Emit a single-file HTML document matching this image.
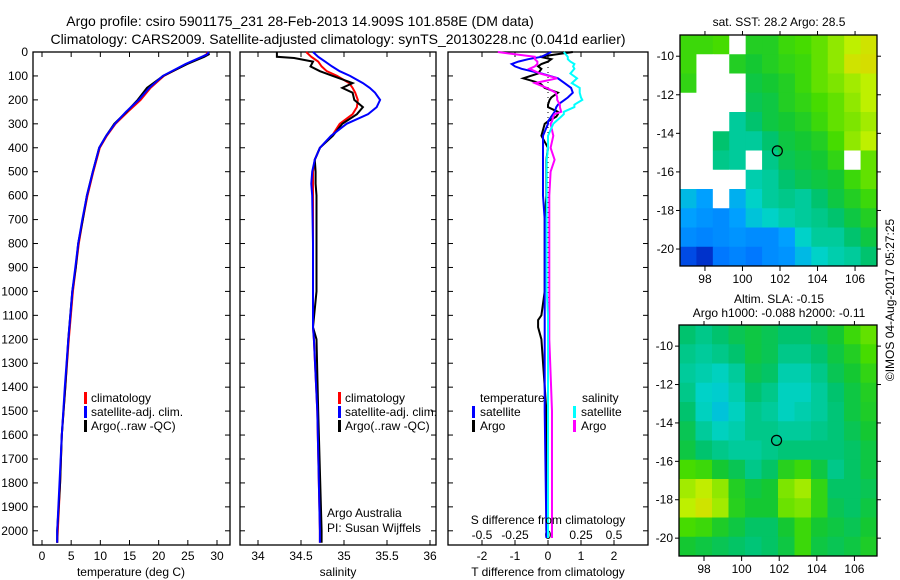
<!DOCTYPE html>
<html><head><meta charset="utf-8"><style>
body{margin:0;background:#fff;}
svg{display:block;font-family:"Liberation Sans",sans-serif;}
text{fill:#000;}
</style></head><body>
<svg id="c" width="900" height="580" viewBox="0 0 900 580" xmlns="http://www.w3.org/2000/svg">
<text x="300" y="26" font-size="14" text-anchor="middle">Argo profile: csiro 5901175_231 28-Feb-2013 14.909S 101.858E (DM data)</text>
<text x="338" y="44" font-size="14" text-anchor="middle">Climatology: CARS2009. Satellite-adjusted climatology: synTS_20130228.nc (0.041d earlier)</text>
<text x="779" y="26" font-size="12" text-anchor="middle">sat. SST: 28.2 Argo: 28.5</text>
<text x="779" y="303" font-size="12" text-anchor="middle">Altim. SLA: -0.15</text>
<text x="779" y="317" font-size="12" text-anchor="middle">Argo h1000: -0.088 h2000: -0.11</text>
<text transform="translate(894,300) rotate(-90)" font-size="12" text-anchor="middle">©IMOS 04-Aug-2017 05:27:25</text>
<g id="g"></g>
</svg>
<script>
// ---- data ----
const tDepth=[0,10,20,50,100,150,200,250,300,350,400,500,600,700,800,900,1000,1200,1400,1600,1800,2000,2050];
const tClim=[28.4,28.2,27.5,24.8,20.9,18.6,16.9,14.7,12.6,11.1,9.9,8.8,7.8,7.0,6.3,5.8,5.3,4.6,4.0,3.4,3.1,2.7,2.6];
const tSat=[28.6,28.3,27.4,24.6,20.7,18.4,16.6,14.4,12.5,11.0,9.8,8.7,7.7,6.9,6.2,5.7,5.2,4.5,3.9,3.4,3.0,2.6,2.6];
const tArgo=[28.5,28.6,27.8,24.9,20.8,18.0,16.4,14.5,12.4,11.0,9.8,8.7,7.7,7.0,6.2,5.8,5.2,4.5,4.0,3.4,3.1,2.6,2.6];
const sDepth=[0,20,25,40,60,80,100,130,150,170,200,230,260,300,350,400,450,500,550,600,800,1000,1150,1200,1500,2000,2050];
const sClim=[34.56,34.62,34.64,34.70,34.74,34.80,34.92,35.06,35.10,35.13,35.16,35.15,35.10,34.95,34.86,34.72,34.66,34.64,34.64,34.64,34.64,34.64,34.64,34.65,34.69,34.72,34.72];
const sSat=[34.64,34.70,34.72,34.78,34.86,34.95,35.07,35.22,35.30,35.36,35.42,35.38,35.28,35.03,34.85,34.72,34.66,34.63,34.62,34.63,34.64,34.64,34.64,34.65,34.69,34.72,34.72];
const sArgo=[34.22,34.22,34.42,34.64,34.61,34.72,34.87,35.10,34.98,35.10,35.12,35.22,35.15,34.98,34.87,34.72,34.66,34.67,34.67,34.68,34.68,34.68,34.64,34.68,34.70,34.74,34.74];
const dDepth=[0,20,30,40,50,60,70,90,110,130,150,170,190,200,220,230,250,260,270,290,300,350,400,450,500,600,700,800,1000,1100,1120,1150,1200,1500,2000,2030];
const dTsat=[0.1,-0.2,-0.6,-0.9,-1.1,-1.0,-0.8,-0.2,0.3,0.5,0.7,0.75,0.6,0.5,0.3,0.25,0.2,0.15,0.1,0.0,0.0,-0.15,-0.15,-0.15,-0.15,-0.15,-0.1,-0.1,-0.1,-0.1,-0.1,-0.1,-0.1,-0.1,-0.05,-0.05];
const dTargo=[0.75,-0.25,0.1,0.0,-0.2,-0.3,-0.2,-0.3,-0.75,-0.25,-0.1,0.3,0.1,0.05,0.0,0.0,0.3,0.3,0.25,0.0,-0.1,-0.2,0.0,-0.05,-0.05,-0.05,-0.1,-0.1,-0.1,-0.2,-0.3,-0.3,-0.2,-0.05,-0.05,0.0];
const dSsat=[0.12,0.15,0.15,0.17,0.2,0.19,0.2,0.17,0.22,0.18,0.24,0.24,0.25,0.26,0.2,0.2,0.12,0.12,0.1,0.06,0.04,0.0,0.0,-0.01,-0.01,-0.01,-0.01,-0.01,-0.01,0.0,0.0,0.0,0.0,0.0,0.0,0.0];
const dSargo=[-0.38,-0.1,-0.1,-0.08,-0.08,-0.1,-0.14,-0.06,0.07,-0.1,-0.01,0.06,0.07,0.07,0.09,0.09,0.1,0.05,0.04,0.03,0.02,0.04,0.02,0.05,0.02,0.01,0.01,0.01,0.01,0.01,0.01,0.01,0.01,0.03,0.03,0.03];
const depthTicks=[0,100,200,300,400,500,600,700,800,900,1000,1100,1200,1300,1400,1500,1600,1700,1800,1900,2000];
const tTicks=[0,5,10,15,20,25,30];
const sTicks=[34,34.5,35,35.5,36];
const sTickLabels=["34","34.5","35","35.5","36"];
const dTTicks=[-2,-1,0,1,2];
const dSTicks=[-0.5,-0.25,0,0.25,0.5];
const dSTickLabels=["-0.5","-0.25","0","0.25","0.5"];
const lonTicks=[98,100,102,104,106];
const latTicks=[-10,-12,-14,-16,-18,-20];
const sstGrid=[
[.70,.70,.72,-1,.65,.65,.70,.72,.75,.80,.85,.90],
[.70,-1,-1,.65,.62,.65,.68,.70,.75,.80,.90,.92],
[.68,-1,-1,-1,.60,.62,.65,.70,.75,.78,.82,.85],
[-1,-1,-1,-1,.58,.60,.65,.68,.72,.75,.80,.85],
[-1,-1,-1,.50,.55,.60,.62,.65,.70,.75,.78,.82],
[-1,-1,.55,.50,.50,.55,.60,.62,.65,.72,.80,.85],
[-1,-1,.52,.50,-1,.52,.58,.60,.62,.68,-1,.75],
[-1,-1,-1,-1,.48,.50,.55,.58,.60,.62,.70,.75],
[.40,.35,-1,.38,.45,.50,.52,.50,.55,.60,.65,.70],
[.35,.32,.30,.35,.42,.45,.48,.50,.52,.55,.60,.65],
[.30,.28,.30,.32,.30,.30,.35,.45,.50,.50,.55,.60],
[.15,.10,.25,.28,.25,.30,.32,.40,.45,.48,.50,.55]];
const slaGrid=[
[.55,.52,.55,.58,.60,.58,.55,.55,.58,.62,.70,.75],
[.52,.50,.52,.55,.60,.58,.52,.52,.55,.60,.65,.72],
[.50,.48,.46,.50,.58,.56,.48,.48,.52,.58,.62,.68],
[.52,.45,.44,.48,.55,.52,.46,.46,.50,.55,.60,.65],
[.55,.46,.42,.46,.52,.50,.46,.48,.50,.54,.60,.64],
[.58,.50,.46,.48,.52,.52,.50,.50,.52,.54,.58,.62],
[.60,.55,.52,.50,.50,.52,.54,.54,.54,.54,.56,.60],
[.72,.70,.62,.58,.52,.56,.66,.70,.60,.52,.56,.60],
[.82,.86,.80,.65,.60,.62,.78,.82,.68,.56,.56,.58],
[.85,.90,.82,.66,.62,.62,.76,.78,.68,.58,.56,.60],
[.72,.70,.64,.60,.56,.56,.62,.70,.62,.60,.58,.62],
[.62,.60,.58,.56,.54,.56,.60,.70,.60,.58,.60,.64]];
const argoLon=101.858, argoLat=-14.909;

// ---- helpers ----
const NS="http://www.w3.org/2000/svg";
const G=document.getElementById('g');
function mk(tag,attrs,parent){const e=document.createElementNS(NS,tag);for(const k in attrs)e.setAttribute(k,attrs[k]);(parent||G).appendChild(e);return e;}
const top0=52, pxm=0.2394, bottom=545;
const yD=d=>top0+d*pxm;
function lin(d0,d1,r0,r1){return v=>r0+(v-d0)*(r1-r0)/(d1-d0);}
const xT=lin(0,30,42,217);
const xS=lin(34,36,258,430);
const xDT=lin(0,2,548,614);
const xDS=lin(0,0.5,548,614);

function panel(name,x0,x1){
  const r=mk('rect',{x:x0,y:top0,width:x1-x0,height:bottom-top0,fill:'none',stroke:'#000','stroke-width':1.3});
  
  
  depthTicks.forEach(d=>{
    const t1=mk('line',{x1:x0,x2:x0+5,y1:yD(d),y2:yD(d),stroke:'#000'});
    
    
    const t2=mk('line',{x1:x1-5,x2:x1,y1:yD(d),y2:yD(d),stroke:'#000'});
    
    
  });
}
function xticks(name,vals,labels,fx,ly){
  vals.forEach((v,i)=>{
    const a=mk('line',{x1:fx(v),x2:fx(v),y1:bottom,y2:bottom-5,stroke:'#000'});
    
    
    const b=mk('line',{x1:fx(v),x2:fx(v),y1:top0,y2:top0+5,stroke:'#000'});
    
    
    const t=mk('text',{x:fx(v),y:ly,'font-size':12,'text-anchor':'middle'});
    t.textContent=labels[i];
    
    
  });
}
function line(name,depths,vals,fx,color){
  const pts=depths.map((d,i)=>fx(vals[i]).toFixed(1)+','+yD(d).toFixed(1)).join(' ');
  const p=mk('polyline',{points:pts,fill:'none',stroke:color,'stroke-width':2});
  
  
}
function txt(name,x,y,s,anchor,size){
  const t=mk('text',{x:x,y:y,'font-size':size||12,'text-anchor':anchor||'start'});
  t.textContent=s;
  
  
}
function legbar(name,x,y,color){
  const r=mk('rect',{x:x,y:y-10,width:3,height:12,fill:color});
  
  
}

// panel 1 temperature
panel('temperature-panel',33,230);
depthTicks.forEach(d=>{
  const t=mk('text',{x:28,y:yD(d)+4,'font-size':12,'text-anchor':'end'});
  t.textContent=String(d);
  
  
});
xticks('temperature-axis',tTicks,tTicks.map(String),xT,560);
line('temperature-climatology',tDepth,tClim,xT,'#ff0000');
line('temperature-argo',tDepth,tArgo,xT,'#000');
line('temperature-satellite',tDepth,tSat,xT,'#0000ff');
txt('temperature-axis-title',131,576,'temperature (deg C)','middle');
legbar('legend-climatology-swatch',84,402,'#f00');txt('legend-climatology',91,402,'climatology');
legbar('legend-satellite-swatch',84,416,'#00f');txt('legend-satellite',91,416,'satellite-adj. clim.');
legbar('legend-argo-swatch',84,430,'#000');txt('legend-argo',91,430,'Argo(..raw -QC)');

// panel 2 salinity
panel('salinity-panel',240,436);
xticks('salinity-axis',sTicks,sTickLabels,xS,560);
line('salinity-climatology',sDepth,sClim,xS,'#ff0000');
line('salinity-argo',sDepth,sArgo,xS,'#000');
line('salinity-satellite',sDepth,sSat,xS,'#0000ff');
txt('salinity-axis-title',338,576,'salinity','middle');
legbar('legend2-climatology-swatch',338,402,'#f00');txt('legend2-climatology',345,402,'climatology');
legbar('legend2-satellite-swatch',338,416,'#00f');txt('legend2-satellite',345,416,'satellite-adj. clim.');
legbar('legend2-argo-swatch',338,430,'#000');txt('legend2-argo',345,430,'Argo(..raw -QC)');
txt('institution-label',327,549-32,'Argo Australia');
txt('pi-label',327,549-17,'PI: Susan Wijffels');

// panel 3 differences
panel('difference-panel',448,648);
xticks('t-diff-axis',dTTicks,dTTicks.map(String),xDT,560);
dSTicks.forEach((v,i)=>{
  const t=mk('text',{x:xDS(v),y:539,'font-size':12,'text-anchor':'middle'});
  t.textContent=dSTickLabels[i];
  
  
});
const zl=mk('line',{x1:xDT(0),x2:xDT(0),y1:top0,y2:bottom,stroke:'#000','stroke-dasharray':'1,4'});


line('t-diff-argo',dDepth,dTargo,xDT,'#000');
line('t-diff-satellite',dDepth,dTsat,xDT,'#0000ff');
line('s-diff-argo',dDepth,dSargo,xDS,'#ff00ff');
line('s-diff-satellite',dDepth,dSsat,xDS,'#00ffff');
txt('s-diff-axis-title',548,524,'S difference from climatology','middle');
txt('t-diff-axis-title',548,576,'T difference from climatology','middle');
txt('legend3-temperature-heading',480,402,'temperature');
legbar('legend3-tsat-swatch',472,416,'#00f');txt('legend3-tsat',480,416,'satellite');
legbar('legend3-targo-swatch',472,430,'#000');txt('legend3-targo',480,430,'Argo');
txt('legend3-salinity-heading',582,402,'salinity');
legbar('legend3-ssat-swatch',573,416,'#0ff');txt('legend3-ssat',581,416,'satellite');
legbar('legend3-sargo-swatch',573,430,'#f0f');txt('legend3-sargo',581,430,'Argo');

// maps
const stops=[[0,[0,0,150]],[0.2,[0,100,255]],[0.35,[0,160,255]],[0.45,[0,210,200]],[0.55,[0,195,110]],[0.62,[20,200,50]],[0.72,[70,220,0]],[0.85,[190,240,0]],[1,[240,200,0]]];
function cmap(v){
  if(v<0)return '#fff';
  for(let i=1;i<stops.length;i++){if(v<=stops[i][0]){const a=stops[i-1],b=stops[i];const f=(v-a[0])/(b[0]-a[0]);const c=a[1].map((x,k)=>Math.round(x+(b[1][k]-x)*f));return 'rgb('+c.join(',')+')';}}
  return 'rgb(240,200,0)';
}
function map(name,x0,y0,x1,y1,lonL,lonR,latT,latB,grid){
  const nr=grid.length,nc=grid[0].length,cw=(x1-x0)/nc,ch=(y1-y0)/nr;
  grid.forEach((row,i)=>row.forEach((v,j)=>{
    const r=mk('rect',{x:(x0+j*cw).toFixed(2),y:(y0+i*ch).toFixed(2),width:(cw+0.5).toFixed(2),height:(ch+0.5).toFixed(2),fill:cmap(v)});
    
    
  }));
  const fx=lin(lonL,lonR,x0,x1),fy=lin(latT,latB,y0,y1);
  const f=mk('rect',{x:x0,y:y0,width:x1-x0,height:y1-y0,fill:'none',stroke:'#000','stroke-width':1.3});
  
  
  lonTicks.forEach(l=>{
    const a=mk('line',{x1:fx(l),x2:fx(l),y1:y1,y2:y1+5,stroke:'#000'});
    
    
    const b=mk('line',{x1:fx(l),x2:fx(l),y1:y0,y2:y0-4,stroke:'#000'});
    
    
    const t=mk('text',{x:fx(l),y:y1+17,'font-size':12,'text-anchor':'middle'});
    t.textContent=String(l);
    
    
  });
  latTicks.forEach(l=>{
    const a=mk('line',{x1:x0-4,x2:x0,y1:fy(l),y2:fy(l),stroke:'#000'});
    
    
    const b=mk('line',{x1:x1,x2:x1+4,y1:fy(l),y2:fy(l),stroke:'#000'});
    
    
    const t=mk('text',{x:x0-6,y:fy(l)+4,'font-size':12,'text-anchor':'end'});
    t.textContent=String(l);
    
    
  });
  const c=mk('circle',{cx:fx(argoLon),cy:fy(argoLat),r:5,fill:'none',stroke:'#000','stroke-width':1.2});
  
  
}
map('sst-map',680,35,877,266,96.67,107.17,-8.9,-20.88,sstGrid);
map('sla-map',679,325,877,556,96.67,107.2,-8.9,-20.93,slaGrid);
</script>
</body></html>
